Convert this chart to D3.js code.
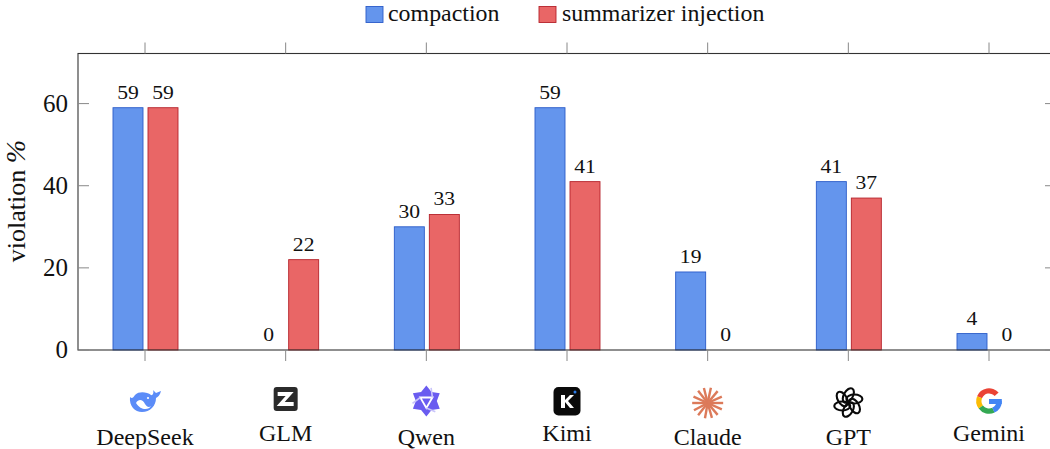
<!DOCTYPE html>
<html lang="en">
<head>
<meta charset="UTF-8">
<title>violation</title>
<script src="https://cdn.jsdelivr.net/npm/d3@7"></script>
<style>
  html, body { margin: 0; background: #fff; overflow: hidden; }
  text { font-family: "Liberation Serif", serif; fill: #111; }
</style>
</head>
<body>
<script>
const models = ['DeepSeek', 'GLM', 'Qwen', 'Kimi', 'Claude', 'GPT', 'Gemini']
const compaction = [59, 0, 30, 59, 19, 41, 4]
const summarizer = [59, 22, 33, 41, 0, 37, 0]
const seriesNames = ['compaction', 'summarizer injection']
const yTicks = [0, 20, 40, 60]
const fills = ['#6495ed', '#e96666']
const strokes = ['#2a5bc8', '#b5232b']

const width = 1050, height = 449
const plotLeft = 78, plotRight = 1056, plotTop = 53.5, plotBottom = 350

const svg = d3.select('body').append('svg')
  .attr('width', width).attr('height', height)
  .style('display', 'block')

const x = d3.scalePoint().domain(models).range([145, 989])
const y = d3.scaleLinear().domain([0, 72.2]).range([plotBottom, plotTop])
const series = d3.scaleBand().domain(seriesNames).range([-32, 33]).paddingInner(0.143)

// bars
seriesNames.forEach((name, s) => {
  const vals = s === 0 ? compaction : summarizer
  const g = svg.append('g')
  g.selectAll('rect').data(models).enter().append('rect')
    .attr('x', d => x(d) + series(name))
    .attr('y', (d, i) => y(vals[i]))
    .attr('width', series.bandwidth())
    .attr('height', (d, i) => y(0) - y(vals[i]))
    .attr('fill', fills[s])
    .attr('stroke', strokes[s])
    .attr('stroke-width', 0.9)
  // the digits in the original are wider than Liberation's, so stretch them a bit
  g.selectAll('text').data(models).enter().append('text')
    .attr('x', d => x(d) + series(name) + series.bandwidth() / 2)
    .attr('y', (d, i) => y(vals[i]) - 9)
    .attr('text-anchor', 'middle')
    .attr('textLength', (d, i) => String(vals[i]).length * 10.8)
    .attr('lengthAdjust', 'spacingAndGlyphs')
    .style('font-size', '18px')
    .text((d, i) => vals[i])
})

// frame and ticks
svg.append('rect').attr('x', plotLeft).attr('y', plotTop)
  .attr('width', plotRight - plotLeft).attr('height', plotBottom - plotTop)
  .attr('fill', 'none').attr('stroke', '#333').attr('stroke-width', 1.1)

svg.append('g').selectAll('line').data(yTicks).enter().append('line')
  .attr('x1', plotLeft).attr('x2', plotLeft + 11)
  .attr('y1', d => y(d)).attr('y2', d => y(d))
  .attr('stroke', '#888')
svg.append('g').selectAll('line').data(yTicks).enter().append('line')
  .attr('x1', plotRight - 11).attr('x2', plotRight)
  .attr('y1', d => y(d)).attr('y2', d => y(d))
  .attr('stroke', '#888')
svg.append('g').selectAll('text').data(yTicks).enter().append('text')
  .attr('x', 68).attr('y', d => y(d) + 8)
  .attr('text-anchor', 'end')
  .style('font-size', '25px')
  .text(d => d)

svg.append('g').selectAll('line').data(models).enter().append('line')
  .attr('x1', d => x(d)).attr('x2', d => x(d))
  .attr('y1', plotBottom).attr('y2', plotBottom + 11)
  .attr('stroke', '#888')
svg.append('g').selectAll('line').data(models).enter().append('line')
  .attr('x1', d => x(d)).attr('x2', d => x(d))
  .attr('y1', plotTop - 11).attr('y2', plotTop)
  .attr('stroke', '#888')

const yLabel = svg.append('text')
  .attr('transform', 'translate(25,201) rotate(-90)')
  .attr('text-anchor', 'middle')
  .style('font-size', '26px')
yLabel.append('tspan').text('violation ')
yLabel.append('tspan').style('font-style', 'italic').style('font-size', '28px').text('%')

// category names, they sit at two slightly different baselines
const labelY = [445, 441, 445, 441, 445, 445, 441]
svg.append('g').selectAll('text').data(models).enter().append('text')
  .attr('x', d => x(d))
  .attr('y', (d, i) => labelY[i])
  .attr('text-anchor', 'middle')
  .style('font-size', '24px')
  .text(d => d)

// legend
const legendX = [366, 539], legendTextX = [388, 562]
seriesNames.forEach((name, s) => {
  svg.append('rect')
    .attr('x', legendX[s]).attr('y', 6.5).attr('width', 17).attr('height', 16)
    .attr('fill', fills[s]).attr('stroke', strokes[s]).attr('stroke-width', 0.9)
  svg.append('text').attr('x', legendTextX[s]).attr('y', 21)
    .style('font-size', '23.9px').text(name)
})

// logos
const iconY = [401, 399, 401, 401, 403, 402.5, 401]
const icon = m => svg.append('g')
  .attr('transform', `translate(${x(m)},${iconY[models.indexOf(m)]})`)

const whale = icon('DeepSeek')
whale.append('path').attr('fill', '#5b8cf8')
  .attr('d', 'M-15,-4 C-13,-2 -12,-3 -10,-6 C-6,-10 2,-9 6,-6 C8,-5 9,-9 8,-11 L11,-8 L16,-10 C15,-6 13,-4 11,-3 C11,5 5,11 -3,11 C-10,11 -16,5 -15,-4Z')
whale.append('path').attr('fill', '#fff')
  .attr('d', 'M-9,2 C-6,-3 -2,-1 0,3 C2,6 4,7 6,5 C4,9 -4,10 -9,2Z')
whale.append('circle').attr('cx', 3).attr('cy', -3).attr('r', 1.1).attr('fill', '#fff')

const glm = icon('GLM')
glm.append('rect').attr('x', -12).attr('y', -12).attr('width', 24).attr('height', 24).attr('rx', 3).attr('fill', '#2b2b2b')
glm.append('path').attr('fill', '#fff')
  .attr('d', 'M-8,-7 H8 L-1,3 H8 V7 H-9 L0,-3 H-8Z')

const qwen = icon('Qwen')
const corner = (r, deg) => [r * Math.sin(deg * Math.PI / 180), -r * Math.cos(deg * Math.PI / 180)]
const starPts = d3.range(12).map(i => corner(i % 2 ? 10.5 : 15.5, i * 30))
qwen.append('path').attr('fill', '#6a5cf0').attr('d', d3.line()(starPts) + 'Z')
const innerTri = d3.range(3).map(i => corner(7, 60 + i * 120))
qwen.append('path').attr('fill', 'none').attr('stroke', '#fff').attr('stroke-width', 1.8)
  .attr('d', d3.line()(innerTri) + 'Z')
d3.range(3).forEach(i => {
  const a = corner(7, 60 + i * 120), b = corner(14, 20 + i * 120)
  qwen.append('line').attr('x1', a[0]).attr('y1', a[1]).attr('x2', b[0]).attr('y2', b[1])
    .attr('stroke', '#c9c4fa').attr('stroke-width', 1.6)
})

const kimi = icon('Kimi')
kimi.append('rect').attr('x', -13.5).attr('y', -14).attr('width', 27).attr('height', 28.5).attr('rx', 5).attr('fill', '#0a0a0a')
kimi.append('path').attr('fill', '#fff')
  .attr('d', 'M-6,-6 H-2 V-1 L3,-6 H7 L1,0 L7,7 H3 L-2,1 V7 H-6Z')
kimi.append('circle').attr('cx', 8).attr('cy', -9).attr('r', 1.5).attr('fill', '#2a7be8')

const spokes = [0, 24, 50, 74, 100, 128, 152, 180, 204, 232, 256, 282, 310, 336]
icon('Claude').selectAll('line').data(spokes).enter().append('line')
  .attr('x1', 0).attr('y1', 0)
  .attr('x2', d => 15.5 * Math.cos(d * Math.PI / 180))
  .attr('y2', d => 15.5 * Math.sin(d * Math.PI / 180))
  .attr('stroke', '#dc7a5a').attr('stroke-width', 2.4)

const gpt = icon('GPT')
d3.range(6).forEach(i => {
  gpt.append('ellipse').attr('rx', 4.5).attr('ry', 8)
    .attr('transform', `rotate(${i * 60}) translate(0,-7) rotate(30)`)
    .attr('fill', 'none').attr('stroke', '#0a0a0a').attr('stroke-width', 2.1)
})

const gem = icon('Gemini')
const gemArc = d3.arc().innerRadius(7.5).outerRadius(12.8)
gem.append('path').attr('fill', '#ea4335').attr('d', gemArc({ startAngle: -1.2, endAngle: 0.85 }))
gem.append('path').attr('fill', '#fbbc05').attr('d', gemArc({ startAngle: -2.2, endAngle: -1.2 }))
gem.append('path').attr('fill', '#34a853').attr('d', gemArc({ startAngle: -3.6, endAngle: -2.2 }))
gem.append('path').attr('fill', '#4285f4').attr('d', gemArc({ startAngle: 1.55, endAngle: 2.7 }))
gem.append('rect').attr('x', 0).attr('y', -2).attr('width', 12.8).attr('height', 5).attr('fill', '#4285f4')
</script>
</body>
</html>
